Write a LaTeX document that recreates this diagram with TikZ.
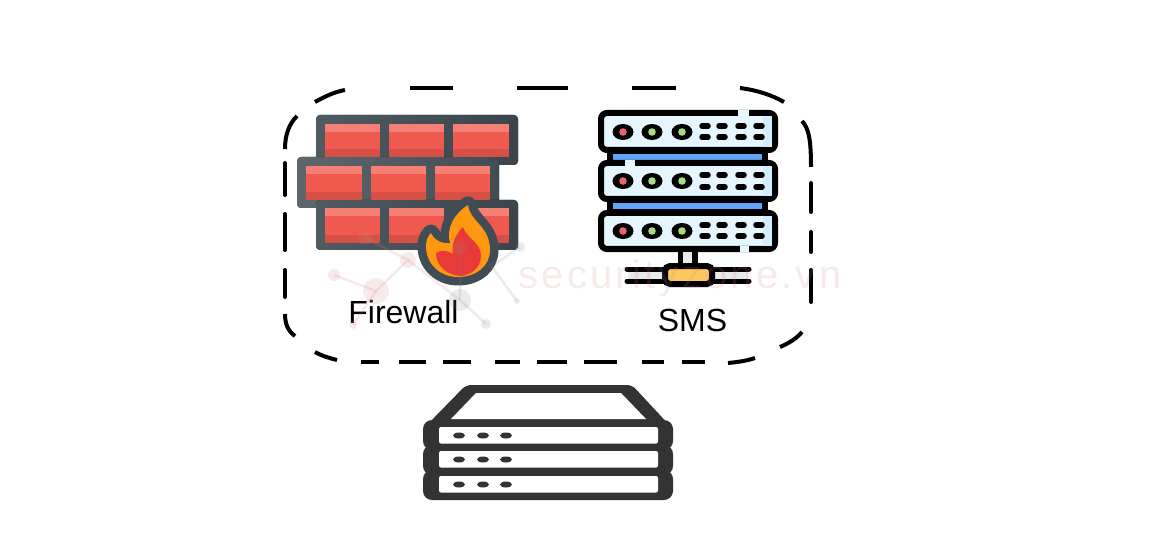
\documentclass[tikz,border=0pt]{standalone}
\usepackage{fontspec}
\setmainfont{Liberation Sans}
\newfontfamily\markfont[LetterSpace=8]{Liberation Sans}
\definecolor{wallgrey}{HTML}{414C54}
\definecolor{brickred}{HTML}{F05A4E}
\definecolor{bricklight}{HTML}{F67F76}
\definecolor{brickdark}{HTML}{D65046}
\definecolor{flameorange}{HTML}{FF9811}
\definecolor{flamered}{HTML}{E93A3A}
\definecolor{rackblue}{HTML}{E6F6FE}
\definecolor{rackshade}{HTML}{D2EDFC}
\definecolor{linkblue}{HTML}{62A4FA}
\definecolor{ledred}{HTML}{E8636B}
\definecolor{ledgreen}{HTML}{A8DC80}
\definecolor{tapyellow}{HTML}{FDC95F}
\definecolor{tapgrey}{HTML}{EBE8EC}
\definecolor{boxgrey}{HTML}{333333}
\definecolor{markpink}{HTML}{D08080}
\definecolor{markgrey}{HTML}{8A8A8A}
\tikzset{
  border/.style={line width=4pt,black},
  wall/.style={rounded corners=4pt},
  rack/.style={draw=black,line width=6pt,rounded corners=6pt,fill=rackblue},
  unit/.style={fill=boxgrey,rounded corners=9pt},
  slot/.style={fill=white,rounded corners=2pt},
  label/.style={font=\fontsize{32}{32}\selectfont,inner sep=0pt,text=black},
}
% one brick: x, y, width, height
\newcommand{\brick}[4]{
  \fill[brickred] (#1,#2) rectangle ++(#3,#4);
  \fill[bricklight] (#1,#2) rectangle ++(#3,8);
  \fill[brickdark] (#1,#2+#4-8) rectangle ++(#3,8);
}
\begin{document}
\begin{tikzpicture}[x=1pt,y=-1pt]
    \useasboundingbox (0,0) rectangle (1170,548);

    % firewall
    \fill[wall,left color=wallgrey!92!white,right color=wallgrey!90!black] (316,115) rectangle (518,165);
    \fill[wall,left color=wallgrey!85!white,right color=wallgrey] (297,157) rectangle (499,208);
    \fill[wall,left color=wallgrey!92!white,right color=wallgrey!90!black] (316,200) rectangle (518,250);
    \foreach \x/\w in {325/55,389/55,453/56} {
      \brick{\x}{124}{\w}{33}
      \brick{\x}{208}{\w}{35}
    }
    \foreach \x/\w in {306/56,371/55,435/55} {
      \brick{\x}{166}{\w}{34}
    }
    \fill[flameorange,preaction={draw=wallgrey,line width=17pt,line join=round}]
      (468,205) .. controls (470,222) and (490,226) .. (490,250)
      .. controls (490,266) and (476,277) .. (458,277)
      .. controls (440,277) and (426,264) .. (426,246)
      .. controls (426,240) and (428,236) .. (431,233)
      .. controls (434,240) and (442,244) .. (450,243)
      .. controls (446,228) and (454,214) .. (468,205) -- cycle;
    \fill[flamered] (463,227) .. controls (466,238) and (481,242) .. (481,256)
      .. controls (481,268) and (470,276) .. (460,276)
      .. controls (447,275) and (436,266) .. (436,253)
      .. controls (442,249) and (448,251) .. (453,254)
      .. controls (451,244) and (456,234) .. (463,227) -- cycle;
    \node[label] (firewall) at (403.5,312) {Firewall};

    % management server
    \fill[black] (607,150) rectangle (768,215);
    \foreach \y in {154,203} {
      \fill[linkblue] (613,\y) rectangle (762,\y+6);
    }
    \foreach \y/\h in {113/37,163/36,213/36} {
      \filldraw[rack] (601,\y) rectangle (775,\y+\h);
      \fill[rackshade] (763,\y+3) rectangle (772,\y+\h-3);
    }
    \draw[rackblue,line width=6pt] (738,113) -- (749,113);
    \draw[rackblue,line width=6pt] (740,249) -- (749,249);
    \draw[rackblue,line width=6pt] (625,163) -- (635,163);
    \foreach \y/\a/\b in {132/126/137,181/175/187,231/225/236} {
      \fill[black] (623,\y) ellipse [x radius=10.5,y radius=8];
      \fill[ledred] (623,\y) circle (3.8);
      \foreach \x in {652,682} {
        \fill[black] (\x,\y) ellipse [x radius=10.5,y radius=8];
        \fill[ledgreen] (\x,\y) circle (3.8);
      }
      \foreach \x in {705,722,741,759} {
        \draw[black,line width=5.5pt,line cap=round] (\x-3,\a) -- (\x+3,\a);
        \draw[black,line width=5.5pt,line cap=round] (\x-3,\b) -- (\x+3,\b);
      }
    }
    \fill[tapgrey] (680,252) rectangle (696,266);
    \draw[black,line width=5.5pt] (680.5,252) -- (680.5,266) (695,252) -- (695,266);
    \fill[tapgrey] (628,269) rectangle (748,281);
    \draw[black,line width=5pt,line cap=round] (627,269) -- (749,269) (627,281) -- (749,281);
    \filldraw[draw=black,fill=tapyellow,line width=6pt,rounded corners=5pt] (665,266) rectangle (712,284);
    \node[label] (sms) at (692.5,320) {SMS};

    % dashed outline, straight parts first
    \foreach \xa/\xb in {410/453,517/568,632/676} {
      \draw[border] (\xa,88) -- (\xb,88);
    }
    \foreach \xa/\xb in {682/705,642/664,584/617,537/567,495/520,443/471,399/426,361/379} {
      \draw[border] (\xa,362) -- (\xb,362);
    }
    \foreach \ya/\yb in {183/212,232/252,270/302} {
      \draw[border,line cap=round] (811,\ya) -- (811,\yb);
    }
    \foreach \ya/\yb in {163/195,214/250,270/297} {
      \draw[border,line cap=round] (285,\ya) -- (285,\yb);
    }
    % and the corners
    \draw[border] (740,88) .. controls (756,90) and (772,95) .. (784,102);
    \draw[border] (802,121) .. controls (808,128) and (811,136) .. (811,167);
    \draw[border] (802,332) .. controls (796,339) and (789,343) .. (780,347);
    \draw[border] (755,358) .. controls (746,361) and (738,362) .. (728,363);
    \draw[border] (337,360) .. controls (329,358) and (322,356) .. (315,352);
    \draw[border] (295,336) .. controls (288,331) and (285,324) .. (285,314);
    \draw[border] (285,149) .. controls (285,135) and (289,124) .. (297,116);
    \draw[border] (315,102) .. controls (324,97) and (334,92) .. (345,90);

    % gateway stack
    \fill[boxgrey,rounded corners=5pt] (466,385) -- (632,385) -- (672,428) -- (424,428) -- cycle;
    \fill[white] (476,393) -- (621,393) -- (646,419) -- (451,419) -- cycle;
    \foreach \y in {420,445,470} {
      \fill[unit] (423,\y) rectangle (673,\y+30);
    }
    \foreach \y in {427,451,476} {
      \fill[slot] (439,\y) rectangle (658,\y+16.5);
      \foreach \x in {459,483,506} {
        \fill[boxgrey] (\x,\y+8.5) ellipse [x radius=6,y radius=3];
      }
    }

    % faint logo on top of everything
    \begin{scope}[opacity=0.17]
      \draw[markpink,line width=2.5pt] (334,275) -- (376,291) -- (408,260) -- (365,238);
      \draw[markpink,line width=2.5pt] (376,291) -- (353,325);
      \draw[markpink,line width=2.5pt] (408,260) -- (460,300);
      \draw[markgrey,line width=2.5pt] (490,264) -- (517,301);
      \draw[markgrey,line width=2.5pt] (460,248) -- (460,300) -- (486,324);
      \draw[markgrey,line width=2.5pt] (520,247) -- (495,264);
      \foreach \x/\y/\r in {376/291/13,408/260/8,365/238/7,334/275/6,353/325/4} {
        \fill[markpink] (\x,\y) circle (\r);
      }
      \foreach \x/\y/\r in {460/300/11,486/324/5,517/301/3,520/247/5,460/248/7} {
        \fill[markgrey] (\x,\y) circle (\r);
      }
      \node[anchor=base,inner sep=0pt,text=markpink,font=\markfont\fontsize{40}{40}\selectfont] (mark) at (680,288) {securityzone.vn};
    \end{scope}
\end{tikzpicture}
\end{document}
